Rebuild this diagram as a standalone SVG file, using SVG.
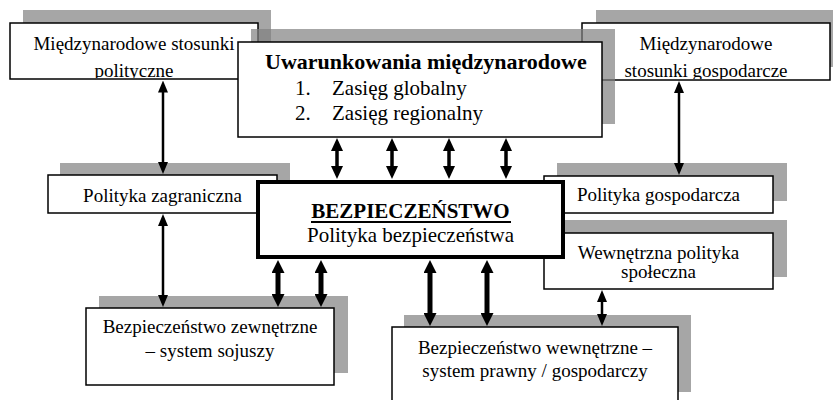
<svg xmlns="http://www.w3.org/2000/svg" width="833" height="400" viewBox="0 0 833 400">
  <style>
    .bg { fill: #ffffff; }
    .shadow { fill: #808080; opacity: 0.7; }
    .box { fill: #ffffff; stroke: #000000; stroke-width: 1.5; }
    .main { fill: #ffffff; stroke: #000000; stroke-width: 4; }
    text { font-family: "Liberation Serif", "Times New Roman", serif; fill: #000000; }
    .t19 { font-size: 19px; text-anchor: middle; }
    .t21 { font-size: 21px; }
    .b { font-weight: bold; }
    .c { text-anchor: middle; }
    .thin { stroke: #000000; stroke-width: 2.5; fill: none; marker-start: url(#headS); marker-end: url(#headS); }
    .mid { stroke: #000000; stroke-width: 3.5; fill: none; marker-start: url(#headM); marker-end: url(#headM); }
    .thick { stroke: #000000; stroke-width: 5; fill: none; marker-start: url(#headL); marker-end: url(#headL); }
  </style>
  <defs>
    <marker id="headS" markerUnits="userSpaceOnUse" viewBox="0 0 12 10" markerWidth="12" markerHeight="10" refX="3" refY="5" orient="auto-start-reverse">
      <path d="M0,0 L12,5 L0,10 z" fill="#000000"/>
    </marker>
    <marker id="headM" markerUnits="userSpaceOnUse" viewBox="0 0 13 12" markerWidth="13" markerHeight="12" refX="3" refY="6" orient="auto-start-reverse">
      <path d="M0,0 L13,6 L0,12 z" fill="#000000"/>
    </marker>
    <marker id="headL" markerUnits="userSpaceOnUse" viewBox="0 0 13 13" markerWidth="13" markerHeight="13" refX="3" refY="6.5" orient="auto-start-reverse">
      <path d="M0,0 L13,6.5 L0,13 z" fill="#000000"/>
    </marker>
    <clipPath id="clipPol"><rect x="10" y="23" width="248" height="55"/></clipPath>
    <clipPath id="clipGosp"><rect x="582" y="23" width="248" height="56"/></clipPath>
  </defs>

  <rect class="bg" x="0" y="0" width="833" height="400"/>

  <!-- International political relations -->
  <g id="miedzynarodowe-polityczne">
    <rect class="shadow" x="23" y="10" width="248" height="56"/>
    <rect class="box" x="10" y="23" width="248" height="56"/>
    <g clip-path="url(#clipPol)">
      <text class="t19" x="134" y="49.5">Międzynarodowe stosunki</text>
      <text class="t19" x="134" y="76.5">polityczne</text>
    </g>
  </g>

  <!-- International economic relations -->
  <g id="miedzynarodowe-gospodarcze">
    <rect class="shadow" x="596" y="10" width="248" height="57"/>
    <rect class="box" x="582" y="23" width="248" height="57"/>
    <g clip-path="url(#clipGosp)">
      <text class="t19" x="706" y="50">Międzynarodowe</text>
      <text class="t19" x="706" y="76.5">stosunki gospodarcze</text>
    </g>
  </g>

  <!-- International conditions -->
  <g id="uwarunkowania">
    <rect class="shadow" x="251" y="29" width="364" height="95"/>
    <rect class="box" x="238" y="42" width="364" height="95"/>
    <text class="t21 b" x="265" y="69" style="font-size:22px">Uwarunkowania międzynarodowe</text>
    <text class="t21" x="295" y="95">1.</text>
    <text class="t21" x="332" y="95">Zasięg globalny</text>
    <text class="t21" x="295" y="120">2.</text>
    <text class="t21" x="332" y="120">Zasięg regionalny</text>
  </g>

  <!-- Foreign policy -->
  <g id="polityka-zagraniczna">
    <rect class="shadow" x="60" y="163" width="230" height="38"/>
    <rect class="box" x="48" y="175" width="229" height="38"/>
    <text class="t19" x="162.5" y="202">Polityka zagraniczna</text>
  </g>

  <!-- Economic policy -->
  <g id="polityka-gospodarcza">
    <rect class="shadow" x="557" y="163" width="230" height="38"/>
    <rect class="box" x="544" y="176" width="229" height="37"/>
    <text class="t19" x="658.5" y="201">Polityka gospodarcza</text>
  </g>

  <!-- Internal social policy -->
  <g id="polityka-spoleczna">
    <rect class="shadow" x="557" y="220" width="230" height="57"/>
    <rect class="box" x="544" y="233" width="229" height="56"/>
    <text class="t19" x="658.5" y="259">Wewnętrzna polityka</text>
    <text class="t19" x="658.5" y="278">społeczna</text>
  </g>

  <!-- External security -->
  <g id="bezpieczenstwo-zewnetrzne">
    <rect class="shadow" x="99" y="296" width="249" height="77"/>
    <rect class="box" x="86" y="308" width="248" height="77"/>
    <text class="t19" x="210" y="333">Bezpieczeństwo zewnętrzne</text>
    <text class="t19" x="210" y="357">– system sojuszy</text>
  </g>

  <!-- Internal security -->
  <g id="bezpieczenstwo-wewnetrzne">
    <rect class="shadow" x="404" y="315" width="287" height="77"/>
    <rect class="box" x="392" y="327" width="286" height="80"/>
    <text class="t19" x="535" y="354">Bezpieczeństwo wewnętrzne –</text>
    <text class="t19" x="535" y="377">system prawny / gospodarczy</text>
  </g>

  <!-- Central node: security -->
  <g id="bezpieczenstwo">
    <rect class="main" x="258" y="182" width="305" height="75"/>
    <text class="t21 b c" x="410.5" y="218">BEZPIECZEŃSTWO</text>
    <line x1="311" y1="222" x2="511" y2="222" stroke="#000000" stroke-width="2"/>
    <text class="t21 c" x="410.5" y="242">Polityka bezpieczeństwa</text>
  </g>

  <!-- Connectors (two-way arrows) -->
  <g id="connectors">
    <line class="thin" x1="163" y1="89.5" x2="163" y2="165"/>
    <line class="thin" x1="679" y1="90" x2="679" y2="166"/>
    <line class="mid" x1="337" y1="148" x2="337" y2="169"/>
    <line class="mid" x1="392" y1="148" x2="392" y2="169"/>
    <line class="mid" x1="449" y1="148" x2="449" y2="169"/>
    <line class="mid" x1="506" y1="148" x2="506" y2="169"/>
    <line class="thin" x1="163" y1="223" x2="163" y2="298"/>
    <line class="thick" x1="278" y1="270" x2="278" y2="297"/>
    <line class="thick" x1="321" y1="270" x2="321" y2="297"/>
    <line class="thick" x1="430" y1="270" x2="430" y2="316"/>
    <line class="thick" x1="487" y1="270" x2="487" y2="316"/>
    <line class="thin" x1="602" y1="299" x2="602" y2="317"/>
  </g>
</svg>
